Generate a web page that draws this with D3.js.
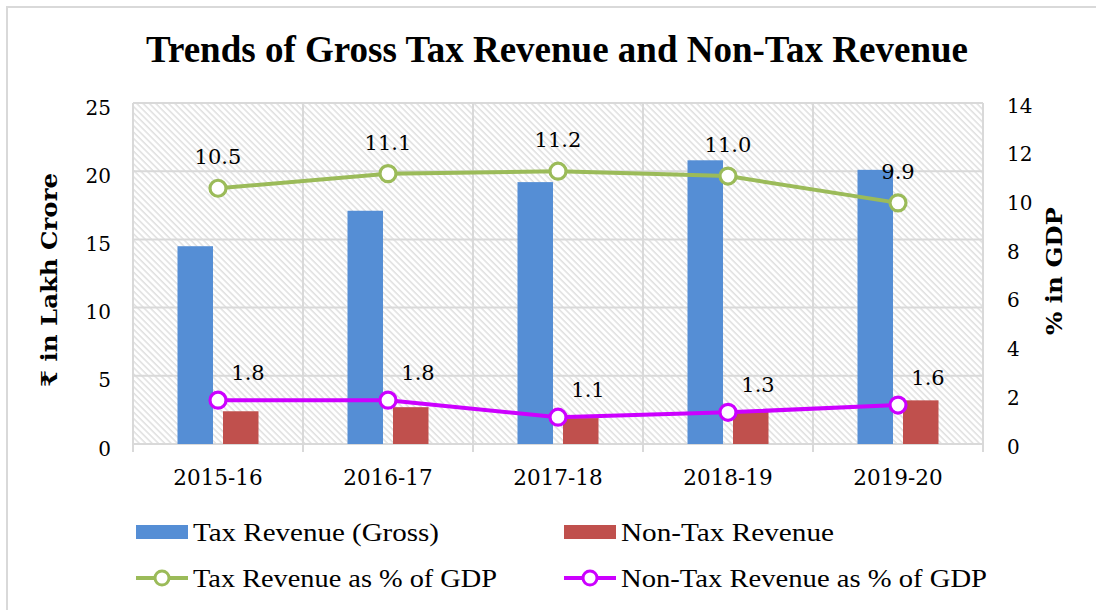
<!DOCTYPE html>
<html>
<head>
<meta charset="utf-8">
<script src="https://cdn.jsdelivr.net/npm/d3@7/dist/d3.min.js"></script>
<style>
  html, body { margin: 0; padding: 0; background: #fff; }
  svg { display: block; }
</style>
</head>
<body>
<div id="chart"></div>
<script>
// ---- data ----
const categories = ["2015-16", "2016-17", "2017-18", "2018-19", "2019-20"];
const taxRevenue = [14.5, 17.1, 19.2, 20.8, 20.1];       // ₹ lakh crore
const nonTaxRevenue = [2.4, 2.7, 1.9, 2.4, 3.2];        // ₹ lakh crore
const taxPctGDP = [10.5, 11.1, 11.2, 11.0, 9.9];        // % of GDP
const nonTaxPctGDP = [1.8, 1.8, 1.1, 1.3, 1.6];         // % of GDP
const leftTicks = [0, 5, 10, 15, 20, 25];
const rightTicks = [0, 2, 4, 6, 8, 10, 12, 14];
const seriesNames = ["Tax Revenue (Gross)", "Non-Tax Revenue", "Tax Revenue as % of GDP", "Non-Tax Revenue as % of GDP"];

const W = 1096, H = 610;
const plot = { left: 133, right: 983, top: 103, bottom: 444 };
const colors = { tax: "#558ed5", nonTax: "#c0504d", taxLine: "#9bbb59", nonTaxLine: "#cc00ff", grid: "#d9d9d9" };
const tickFont = "'DejaVu Serif', Georgia, serif";

const svg = d3.select("#chart").append("svg").attr("width", W).attr("height", H);

// outer border
svg.append("path").attr("d", `M7,${H + 5} V7 H${W + 5}`)
  .attr("fill", "none").attr("stroke", colors.grid).attr("stroke-width", 2);

// hatch pattern
const defs = svg.append("defs");
const pat = defs.append("pattern").attr("id", "hatch").attr("patternUnits", "userSpaceOnUse")
  .attr("width", 4.5).attr("height", 4.5).attr("patternTransform", "rotate(-45)");
pat.append("rect").attr("width", 4.5).attr("height", 4.5).attr("fill", "#fff");
pat.append("line").attr("x1", 1).attr("y1", 0).attr("x2", 1).attr("y2", 4.5)
  .attr("stroke", "#d4d4d4").attr("stroke-width", 1.1);

// scales
const x = d3.scaleBand().domain(categories).range([plot.left, plot.right]).padding(0);
const inner = d3.scaleBand().domain(["tax", "nonTax"]).range([-40.5, 40.5]).paddingInner(0.22);
const yL = d3.scaleLinear().domain([0, 25]).range([plot.bottom, plot.top]);
const yR = d3.scaleLinear().domain([0, 14]).range([plot.bottom, plot.top]);

// plot background
svg.append("rect").attr("x", plot.left).attr("y", plot.top)
  .attr("width", plot.right - plot.left).attr("height", plot.bottom - plot.top)
  .attr("fill", "url(#hatch)");

// horizontal gridlines
svg.append("g").selectAll("line").data(leftTicks).join("line")
  .attr("x1", plot.left).attr("x2", plot.right)
  .attr("y1", d => yL(d)).attr("y2", d => yL(d))
  .attr("stroke", colors.grid).attr("stroke-width", 2);

// vertical gridlines (category boundaries), extending below as tick marks
const bounds = categories.map(c => x(c)).concat([plot.right]);
svg.append("g").selectAll("line").data(bounds).join("line")
  .attr("x1", d => d).attr("x2", d => d)
  .attr("y1", plot.top).attr("y2", plot.bottom + 8)
  .attr("stroke", colors.grid).attr("stroke-width", 2);

// bars
const center = c => x(c) + x.bandwidth() / 2;
svg.append("g").selectAll("rect").data(categories).join("rect")
  .attr("x", (c) => center(c) + inner("tax"))
  .attr("width", inner.bandwidth())
  .attr("y", (c, i) => yL(taxRevenue[i]))
  .attr("height", (c, i) => yL(0) - yL(taxRevenue[i]))
  .attr("fill", colors.tax);
svg.append("g").selectAll("rect").data(categories).join("rect")
  .attr("x", (c) => center(c) + inner("nonTax"))
  .attr("width", inner.bandwidth())
  .attr("y", (c, i) => yL(nonTaxRevenue[i]))
  .attr("height", (c, i) => yL(0) - yL(nonTaxRevenue[i]))
  .attr("fill", colors.nonTax);

// axes
const leftAxis = svg.append("g").attr("transform", `translate(${plot.left - 22},0)`)
  .call(d3.axisLeft(yL).tickValues(leftTicks).tickSize(0).tickPadding(0));
const rightAxis = svg.append("g").attr("transform", `translate(${plot.right + 24},0)`)
  .call(d3.axisRight(yR).tickValues(rightTicks).tickSize(0).tickPadding(0));
const bottomAxis = svg.append("g").attr("transform", `translate(0,${plot.bottom + 23})`)
  .call(d3.axisBottom(x).tickSize(0).tickPadding(0));
[leftAxis, rightAxis, bottomAxis].forEach(a => {
  a.select(".domain").remove();
  a.selectAll("text").attr("font-family", tickFont).attr("font-size", 20).attr("fill", "#000");
});
leftAxis.selectAll("text").attr("dy", "0.55em");
rightAxis.selectAll("text").attr("dy", "0.45em");
bottomAxis.selectAll("text").attr("dy", "0.85em").attr("font-size", 21.5);

// lines
function drawLine(vals, color) {
  const pts = categories.map((c, i) => [center(c), yR(vals[i])]);
  svg.append("path").attr("d", d3.line()(pts)).attr("fill", "none")
    .attr("stroke", color).attr("stroke-width", 4).attr("stroke-linejoin", "round");
  svg.append("g").selectAll("circle").data(pts).join("circle")
    .attr("cx", d => d[0]).attr("cy", d => d[1]).attr("r", 8)
    .attr("fill", "#fff").attr("stroke", color).attr("stroke-width", 3.2);
}
drawLine(taxPctGDP, colors.taxLine);
drawLine(nonTaxPctGDP, colors.nonTaxLine);

// data labels
svg.append("g").selectAll("text").data(categories).join("text")
  .attr("x", c => center(c))
  .attr("y", (c, i) => yR(taxPctGDP[i]) - 24)
  .attr("text-anchor", "middle")
  .attr("font-family", tickFont).attr("font-size", 21).attr("fill", "#000")
  .text((c, i) => taxPctGDP[i].toFixed(1));
svg.append("g").selectAll("text").data(categories).join("text")
  .attr("x", c => center(c) + 30)
  .attr("y", (c, i) => yR(nonTaxPctGDP[i]) - 20)
  .attr("text-anchor", "middle")
  .attr("font-family", tickFont).attr("font-size", 21).attr("fill", "#000")
  .text((c, i) => nonTaxPctGDP[i].toFixed(1));

// title
svg.append("text").attr("x", 557).attr("y", 62).attr("text-anchor", "middle")
  .attr("font-family", "'Liberation Serif', 'Times New Roman', serif")
  .attr("font-weight", "bold").attr("font-size", 37).attr("fill", "#000")
  .text("Trends of Gross Tax Revenue and Non-Tax Revenue");

// axis titles
svg.append("text").attr("transform", "translate(57,280) rotate(-90)")
  .attr("text-anchor", "middle").attr("font-family", tickFont)
  .attr("font-weight", "bold").attr("font-size", 22).attr("fill", "#000")
  .attr("textLength", 214).attr("lengthAdjust", "spacingAndGlyphs")
  .text("₹ in Lakh Crore");
svg.append("text").attr("transform", "translate(1062,271) rotate(-90)")
  .attr("text-anchor", "middle").attr("font-family", tickFont)
  .attr("font-weight", "bold").attr("font-size", 22).attr("fill", "#000")
  .attr("textLength", 128).attr("lengthAdjust", "spacingAndGlyphs")
  .text("% in GDP");

// legend
const legendItems = [
  { name: seriesNames[0], type: "bar", color: colors.tax, x: 136, y: 532, len: 246 },
  { name: seriesNames[1], type: "bar", color: colors.nonTax, x: 564, y: 532, len: 213 },
  { name: seriesNames[2], type: "line", color: colors.taxLine, x: 136, y: 578, len: 304 },
  { name: seriesNames[3], type: "line", color: colors.nonTaxLine, x: 564, y: 578, len: 366 }
];
const lg = svg.append("g").selectAll("g").data(legendItems).join("g")
  .attr("transform", d => `translate(${d.x},${d.y})`);
lg.filter(d => d.type === "bar").append("rect")
  .attr("x", 0).attr("y", -7).attr("width", 52).attr("height", 14).attr("fill", d => d.color);
lg.filter(d => d.type === "line").append("line")
  .attr("x1", 0).attr("x2", 52).attr("y1", 0).attr("y2", 0)
  .attr("stroke", d => d.color).attr("stroke-width", 4);
lg.filter(d => d.type === "line").append("circle")
  .attr("cx", 26).attr("cy", 0).attr("r", 7)
  .attr("fill", "#fff").attr("stroke", d => d.color).attr("stroke-width", 3);
lg.append("text").attr("x", 57).attr("y", 9)
  .attr("font-family", "'Liberation Serif', 'Times New Roman', serif")
  .attr("font-size", 26).attr("fill", "#000")
  .attr("textLength", d => d.len).attr("lengthAdjust", "spacingAndGlyphs")
  .text(d => d.name);
</script>
</body>
</html>
